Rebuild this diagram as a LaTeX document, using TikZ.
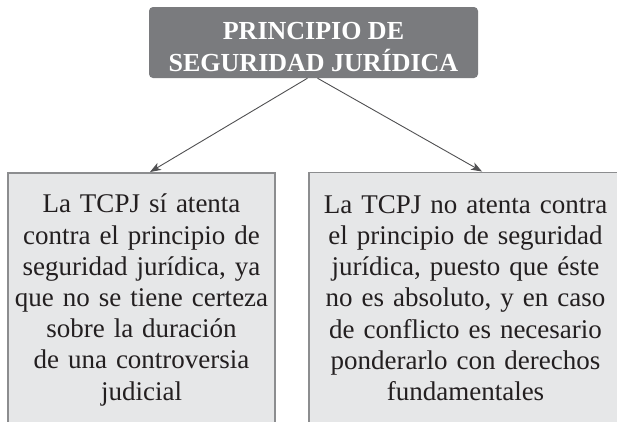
\documentclass[tikz,border=0pt]{standalone}
\usepackage{fontspec}
\setmainfont{Liberation Serif}
\usetikzlibrary{arrows.meta}
\definecolor{titlegray}{RGB}{122,123,126}
\definecolor{boxfill}{RGB}{230,231,232}
\definecolor{boxline}{RGB}{140,141,143}
\definecolor{arrowgray}{RGB}{80,80,82}
\definecolor{textblack}{RGB}{35,31,32}
\tikzset{
  titlebox/.style={rectangle, rounded corners=4pt, fill=titlegray, draw=none,
    minimum width=329pt, minimum height=71pt, inner sep=0pt},
  titletext/.style={text=white, align=center, inner sep=0pt, anchor=north,
    font=\fontsize{26}{29}\selectfont\bfseries},
  argbox/.style={rectangle, fill=boxfill, draw=boxline, line width=1.6pt,
    inner sep=0pt, anchor=north, minimum height=270pt},
  argtext/.style={text=textblack, align=center, inner sep=0pt, anchor=north,
    font=\fontsize{27}{31.2}\selectfont},
  link/.style={draw=arrowgray, line width=0.9pt,
    -{Stealth[length=11pt,width=8pt,inset=3pt]}}
}
\begin{document}
\begin{tikzpicture}[x=1pt,y=-1pt]
\useasboundingbox (0,0) rectangle (617,421);
\clip (0,0) rectangle (617,421);
\fill[white] (0,0) rectangle (617,421);
% title
\node[titlebox] (title) at (313.5,42.5) {};
\node[titletext] (titlet) at (313.5,18.7) {\strut PRINCIPIO DE\\SEGURIDAD JURÍDICA};
% boxes
\node[argbox, minimum width=267pt] (lbox) at (141.5,172) {};
\node[argbox, minimum width=313pt] (rbox) at (465.5,171.5) {};
\node[argtext, text width=267pt] (ltext) at (141.5,190.9) {\strut La TCPJ sí atenta\\contra el principio de\\seguridad jurídica, ya\\que no se tiene certeza\\sobre la duración\\de una controversia\\judicial};
\node[argtext, text width=300pt] (rtext) at (465.5,191.2) {\strut La TCPJ no atenta contra\\el principio de seguridad\\jurídica, puesto que éste\\no es absoluto, y en caso\\de conflicto es necesario\\ponderarlo con derechos\\fundamentales};
% connectors
\draw[link] ([xshift=-6pt]title.south) -- ([xshift=8.5pt]lbox.north);
\draw[link] ([xshift=4pt]title.south) -- ([xshift=16.5pt]rbox.north);
\end{tikzpicture}
\end{document}
